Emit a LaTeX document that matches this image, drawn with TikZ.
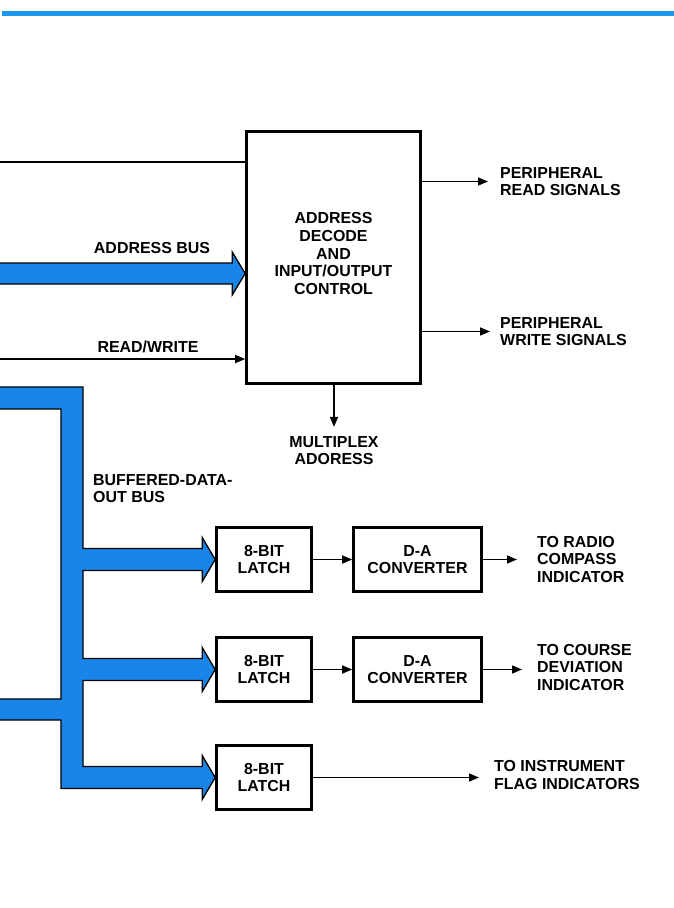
\documentclass[tikz,border=0pt]{standalone}
\usepackage{fontspec}
\setmainfont{Liberation Sans}
\usepackage{xcolor}
\definecolor{busblue}{RGB}{25,133,232}
\definecolor{ruleblue}{RGB}{30,150,235}
\usepackage{tikz}
\usetikzlibrary{
  arrows.meta,
  calc
}

\begin{document}
\begin{tikzpicture}[
  x=1bp, y=-1bp,
  box/.style={
    draw, line width=2.6bp, fill=white, inner sep=0pt,
    font=\fontsize{16}{17.7}\selectfont\bfseries, align=center
  },
  lbl/.style={
    inner sep=0pt, align=left,
    font=\fontsize{16}{17.7}\selectfont\bfseries
  },
  wire/.style={line width=1.6bp},
  sig/.style={-{Triangle[length=10bp, width=8bp]}, line width=1.6bp},
  bus/.style={fill=busblue, draw=black, line width=1.3bp, line join=miter},
]
\useasboundingbox (0,0) rectangle (674,908);

% Top rule
\fill[ruleblue] (2,11) rectangle (674,15.5);

% Decoder block and latch/converter rows
\node[box, minimum width=174bp, minimum height=252bp, text depth=8bp]
  (ctrl) at (333.5,257.5) {ADDRESS\\DECODE\\AND\\INPUT/OUTPUT\\CONTROL};
\node[box, minimum width=95bp, minimum height=64bp]
  (latchA) at (264,559.5) {8-BIT\\LATCH};
\node[box, minimum width=128bp, minimum height=64bp]
  (daA) at (417.5,559.5) {D-A\\CONVERTER};
\node[box, minimum width=95bp, minimum height=64bp]
  (latchB) at (264,669.5) {8-BIT\\LATCH};
\node[box, minimum width=128bp, minimum height=64bp]
  (daB) at (417.5,669.5) {D-A\\CONVERTER};
\node[box, minimum width=95bp, minimum height=64bp]
  (latchC) at (264,777.5) {8-BIT\\LATCH};

% Labels
\node[lbl] (abLbl) at (152,248) {ADDRESS BUS};
\node[lbl] (rwLbl) at (148,347) {READ/WRITE};
\node[lbl, anchor=west] (bdLbl) at (93,488.5) {BUFFERED-DATA-\\OUT BUS};
\node[lbl, anchor=west] (rdLbl) at (500,181.5) {PERIPHERAL\\READ SIGNALS};
\node[lbl, anchor=west] (wrLbl) at (500,331.5) {PERIPHERAL\\WRITE SIGNALS};
\node[lbl, align=center] (muxLbl) at (334,450.5) {MULTIPLEX\\ADORESS};
\node[lbl, anchor=west] (rcLbl) at (537,559.5) {TO RADIO\\COMPASS\\INDICATOR};
\node[lbl, anchor=west] (cdLbl) at (537,667.5) {TO COURSE\\DEVIATION\\INDICATOR};
\node[lbl, anchor=west] (flagLbl) at (494,775) {TO INSTRUMENT\\FLAG INDICATORS};

% Single signal lines
\coordinate (inTop) at (-5,162);
\coordinate (inRW) at (-5,359);
\draw[wire] (inTop) -- (inTop -| ctrl.west);
\draw[sig] (inRW) -- (inRW -| ctrl.west);
\draw[sig] (ctrl.east |- rdLbl.west) -- ($(rdLbl.west)+(-12,0)$);
\draw[sig] (ctrl.east |- wrLbl.west) -- ($(wrLbl.west)+(-10,0)$);
\draw[sig] (ctrl.south -| muxLbl.north) -- ($(muxLbl.north)+(0,-9)$);
\draw[sig] (latchA) -- (daA);
\draw[sig] (latchB) -- (daB);
\draw[sig] (daA) -- ($(daA.east -| rcLbl.west)+(-20,0)$);
\draw[sig] (daB) -- ($(daB.east -| cdLbl.west)+(-15,0)$);
\draw[sig] (latchC) -- ($(latchC.east -| flagLbl.west)+(-15,0)$);

% Address bus
\coordinate (abTip) at (ctrl.west |- 0,273.5);
\draw[bus] (-5,263) -- ($(abTip)+(-13,-10.5)$) -- ($(abTip)+(-13,-21.5)$)
  -- (abTip) -- ($(abTip)+(-13,21.5)$) -- ($(abTip)+(-13,10.5)$)
  -- (-5,284) -- cycle;

% Buffered data out bus
\draw[bus] (-5,387) -- (83,387)
  -- (83,548.5) -- ($(latchA.west)+(-13,-11)$) -- ($(latchA.west)+(-13,-22)$)
  -- (latchA.west) -- ($(latchA.west)+(-13,22)$) -- ($(latchA.west)+(-13,11)$)
  -- (83,570.5)
  -- (83,658.5) -- ($(latchB.west)+(-13,-11)$) -- ($(latchB.west)+(-13,-22)$)
  -- (latchB.west) -- ($(latchB.west)+(-13,22)$) -- ($(latchB.west)+(-13,11)$)
  -- (83,680.5)
  -- (83,766.5) -- ($(latchC.west)+(-13,-11)$) -- ($(latchC.west)+(-13,-22)$)
  -- (latchC.west) -- ($(latchC.west)+(-13,22)$) -- ($(latchC.west)+(-13,11)$)
  -- (61,788.5) -- (61,720) -- (-5,720) -- (-5,699) -- (61,699)
  -- (61,409) -- (-5,409) -- cycle;

\end{tikzpicture}
\end{document}
